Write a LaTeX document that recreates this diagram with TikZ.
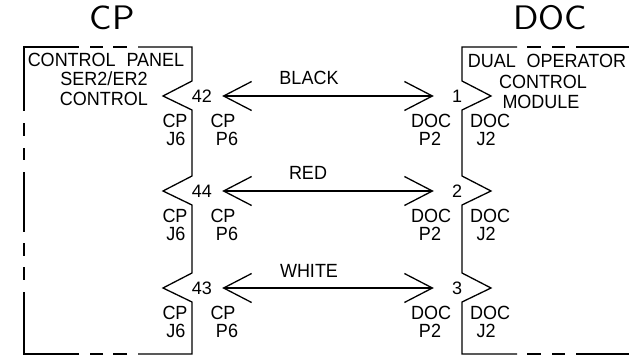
\documentclass[tikz,border=0pt]{standalone}
\usepackage{fontspec}
\setmainfont{Liberation Sans}
\usetikzlibrary{arrows.meta}
\tikzset{
	txt/.style = {inner sep=0pt, font=\fontsize{18}{18}\selectfont, transform shape, yscale=1.06},
	title/.style = {inner sep=0pt, font=\sffamily\fontsize{34}{34}\selectfont, transform shape, xscale=1.1},
	pinl/.style = {inner sep=0pt, font=\fontsize{18}{18}\selectfont, inner xsep=10pt},
	pinr/.style = {inner sep=0pt, font=\fontsize{18}{18}\selectfont, inner xsep=18pt},
	wire/.style = {{Straight Barb[length=28pt,width=29pt]}-{Straight Barb[length=28pt,width=29pt]}, line width=1.3pt},
	outline/.style = {line width=1.3pt}
}
\begin{document}
\begin{tikzpicture}[x=1pt, y=-1pt]
		\useasboundingbox (0,0) rectangle (629,355);
		
		% left box
		\draw [outline] (24,111) -- (24,47) -- (79,47);
		\draw [outline] (90,47) -- (103,47);
		\draw [outline] (113,47) -- (127,47);
		\draw [outline] (138,47) -- (192,47) -- (192,81) -- (163,96) -- (192,110) -- (192,176) -- (163,191) -- (192,205) -- (192,273) -- (163,288) -- (192,302) -- (192,354) -- (138,354);
		\draw [outline] (127,354) -- (113,354);
		\draw [outline] (103,354) -- (90,354);
		\draw [outline] (79,354) -- (24,354) -- (24,292);
		\draw [outline] (24,280) -- (24,267);
		\draw [outline] (24,256) -- (24,243);
		\draw [outline] (24,232) -- (24,172);
		\draw [outline] (24,160) -- (24,148);
		\draw [outline] (24,136) -- (24,123);
		
		% right box
		\draw [outline] (517,47) -- (462,47) -- (462,81) -- (491,96) -- (462,110) -- (462,176) -- (491,191) -- (462,205) -- (462,273) -- (491,288) -- (462,302) -- (462,354) -- (517,354);
		\draw [outline] (527,47) -- (541,47);
		\draw [outline] (552,47) -- (565,47);
		\draw [outline] (576,47) -- (629,47);
		\draw [outline] (527,354) -- (541,354);
		\draw [outline] (552,354) -- (565,354);
		\draw [outline] (576,354) -- (629,354);
		
		% titles
		\node [title] (cp) at (112,18) {CP};
		\node [title] (doc) at (550,18) {DOC};
		
		\node [txt] (cpa) at (106,60) {CONTROL\hspace{0.6em}PANEL};
		\node [txt] (cpb) at (104,79) {SER2/ER2};
		\node [txt] (cpc) at (104,99) {CONTROL};
		\node [txt] (doca) at (547,61) {DUAL\hspace{0.6em}OPERATOR};
		\node [txt] (docb) at (543,82) {CONTROL};
		\node [txt] (docc) at (541,102) {MODULE};
		
		% pins
		\node [pinl] (pin42) at (202,96) {42};
		\node [pinl] (pin44) at (202,191) {44};
		\node [pinl] (pin43) at (202,288) {43};
		\node [pinr] (pin1) at (457,96) {1};
		\node [pinr] (pin2) at (457,191) {2};
		\node [pinr] (pin3) at (457,288) {3};
		
		% wires
		\draw [wire] (pin42.east) -- (pin1.west);
		\draw [wire] (pin44.east) -- (pin2.west);
		\draw [wire] (pin43.east) -- (pin3.west);
		\node [txt] (black) at (309,78) {BLACK};
		\node [txt] (red) at (308,173) {RED};
		\node [txt] (white) at (309,271) {WHITE};
		
		% connector names
		\node [txt] (ja) at (175,121) {CP};
		\node [txt] (jb) at (176,139) {J6};
		\node [txt] (jc) at (175,216) {CP};
		\node [txt] (jd) at (176,234) {J6};
		\node [txt] (je) at (175,313) {CP};
		\node [txt] (jf) at (176,331) {J6};
		\node [txt] (pa) at (223,121) {CP};
		\node [txt] (pb) at (227,139) {P6};
		\node [txt] (pc) at (223,216) {CP};
		\node [txt] (pd) at (227,234) {P6};
		\node [txt] (pe) at (223,313) {CP};
		\node [txt] (pf) at (227,331) {P6};
		
		\node [txt] (qa) at (431,121) {DOC};
		\node [txt] (qb) at (430,139) {P2};
		\node [txt] (qc) at (431,216) {DOC};
		\node [txt] (qd) at (430,234) {P2};
		\node [txt] (qe) at (431,313) {DOC};
		\node [txt] (qf) at (430,331) {P2};
		\node [txt] (ra) at (490,121) {DOC};
		\node [txt] (rb) at (486,139) {J2};
		\node [txt] (rc) at (490,216) {DOC};
		\node [txt] (rd) at (486,234) {J2};
		\node [txt] (re) at (490,313) {DOC};
		\node [txt] (rf) at (486,331) {J2};
		\end{tikzpicture}
\end{document}
